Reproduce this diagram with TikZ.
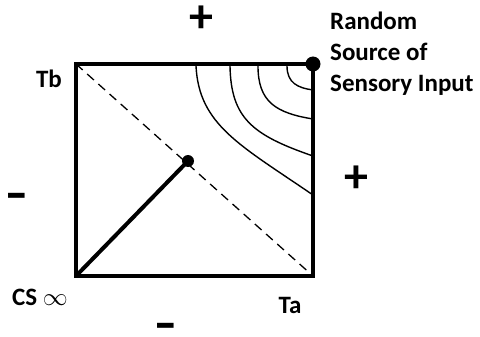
\documentclass[tikz,border=0pt]{standalone}
\usepackage{fontspec}
\setmainfont{Carlito}
\begin{document}
\begin{tikzpicture}[x=1pt,y=-1pt,
  lbl/.style={font=\bfseries\fontsize{25}{31}\selectfont, inner sep=0pt},
  sign/.style={font=\bfseries\fontsize{48}{48}\selectfont, inner sep=0pt},
  plus/.style={sign, text height=26.6pt, text depth=-2.6pt},
  minus/.style={sign, text height=22pt, text depth=-14pt, xscale=1.4, transform shape},
  dot/.style={circle, fill=black, inner sep=0pt, minimum size=#1},
  contour/.style={line width=1.4pt}]
\useasboundingbox (0,0) rectangle (480,337);
\coordinate (BL) at (76,276);
\coordinate (TL) at (76,64);
\coordinate (TR) at (313,64);
\coordinate (BR) at (313,276);
\draw[line width=4.5pt, line join=miter] (BL) -- (TL) -- (TR) -- (BR) -- cycle;
\draw[line width=1.3pt, dash pattern=on 9pt off 6pt] (TL) -- (BR);
\node[dot=12pt] (mid) at (188,161) {};
\draw[line width=4pt] (BL) -- (mid.center);
\node[dot=15pt] (src) at (313,64) {};
% contours
\draw[contour] (196,66) .. controls (199,125) and (240,145) .. (313,195);
\draw[contour] (230,66) .. controls (231,118) and (252,135) .. (313,156);
\draw[contour] (258,66) .. controls (258,102) and (276,113) .. (313,119);
\draw[contour] (287,66) .. controls (287,83) and (298,88) .. (313,90);
% labels
\node[plus] (ptop) at (201,19) {+};
\node[plus] (pright) at (356,179) {+};
\node[minus] (mleft) at (17,198) {-};
\node[minus] (mbottom) at (166,328) {-};
\node[lbl, anchor=north west, align=left] (rs) at (330,12) {Random\\Source of\\Sensory Input};
\node[lbl] (tb) at (49,79) {Tb};
\node[lbl] (cs) at (40,297) {CS $\infty$};
\node[lbl] (ta) at (290,305) {Ta};
\end{tikzpicture}
\end{document}
